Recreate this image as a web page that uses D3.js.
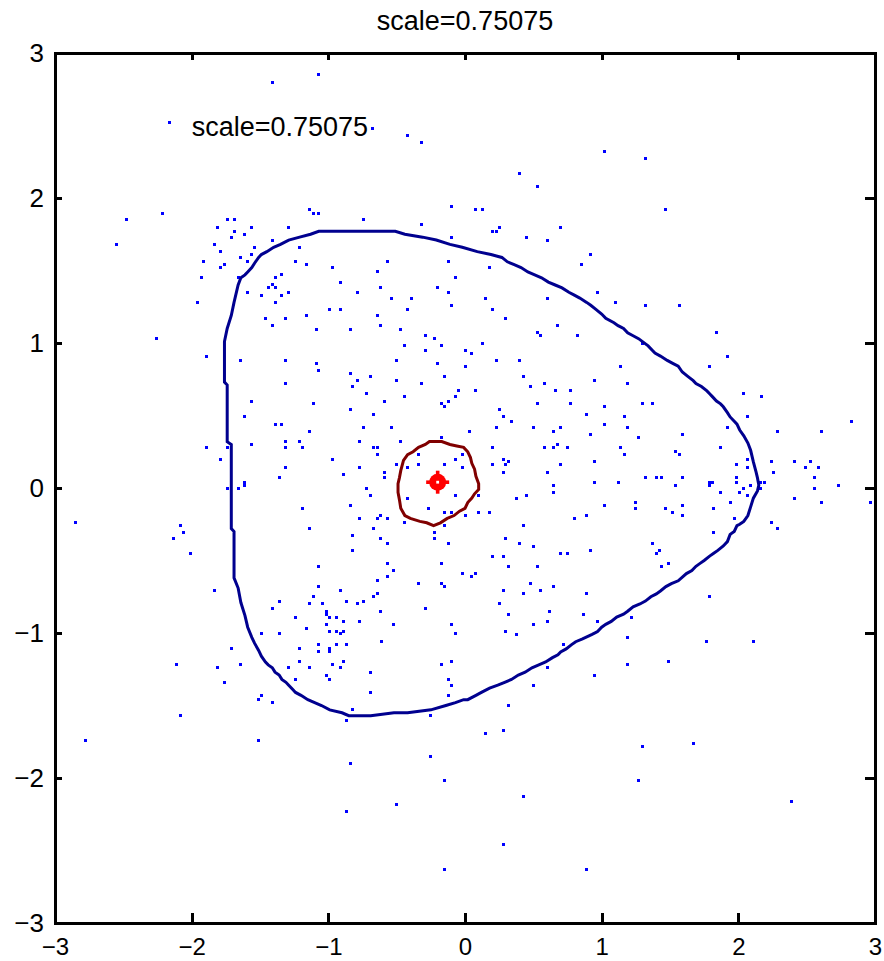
<!DOCTYPE html>
<html>
<head>
<meta charset="utf-8">
<script src="https://cdn.jsdelivr.net/npm/d3@7"></script>
<style>
  html, body { margin: 0; padding: 0; background: #fff; }
  svg { display: block; }
  text { font-family: "Liberation Sans", Arial, Helvetica, sans-serif; fill: #000; }
</style>
</head>
<body>
<svg id="chart" width="884" height="961"></svg>
<script>
// ---- data ----
const titleText = "scale=0.75075";
const noteText = "scale=0.75075";
const notePos = [-2, 2.5];
const xDomain = [-3, 3];
const yDomain = [-3, 3];
const xTickValues = [-3, -2, -1, 0, 1, 2, 3];
const yTickValues = [-3, -2, -1, 0, 1, 2, 3];

// sample cloud
const samplePoints = [
  [-1.07,2.85],[-1.41,2.80],[-2.16,2.52],[-0.68,2.48],[-0.42,2.43],[-0.32,2.38],[-2.21,1.89],[-2.48,1.85],
  [-2.55,1.68],[-1.14,1.92],[-1.11,1.89],[-1.07,1.89],[-0.74,1.85],[-0.10,1.94],[-0.32,1.82],[-0.10,1.73],
  [-1.74,1.85],[-1.69,1.85],[-1.81,1.80],[-1.69,1.77],[-1.56,1.80],[-1.29,1.80],[-1.71,1.73],[-1.61,1.75],
  [-1.83,1.68],[-1.41,1.71],[-1.79,1.63],[-1.54,1.66],[-1.21,1.66],[-1.56,1.61],[-1.64,1.59],[-1.91,1.56],
  [-1.59,1.56],[-1.76,1.54],[-1.79,1.52],[-1.24,1.56],[-1.16,1.54],[-0.97,1.52],[-0.57,1.56],[-0.12,1.56],
  [-0.64,1.49],[-1.93,1.45],[-1.66,1.45],[-1.39,1.45],[-1.34,1.47],[-0.91,1.42],[-0.07,1.45],[-1.41,1.40],
  [-1.44,1.38],[-1.39,1.38],[-1.59,1.35],[-1.49,1.33],[-1.34,1.33],[-1.29,1.35],[-0.79,1.35],[-0.62,1.38],
  [-0.20,1.38],[-0.12,1.35],[-0.54,1.31],[-0.39,1.31],[-1.96,1.28],[-1.39,1.28],[-0.10,1.26],[-0.99,1.23],
  [-0.91,1.23],[-0.42,1.23],[-1.16,1.19],[-0.64,1.19],[-1.46,1.17],[-1.31,1.17],[-1.41,1.12],[-0.62,1.12],
  [-1.09,1.09],[-0.84,1.09],[-0.47,1.09],[-0.29,1.05],[-0.22,1.03],[-2.26,1.03],[1.02,2.32],[1.32,2.27],
  [0.40,2.17],[0.53,2.08],[0.08,1.92],[0.13,1.92],[1.47,1.92],[0.25,1.80],[0.20,1.77],[0.23,1.77],
  [0.70,1.80],[0.45,1.73],[0.60,1.71],[0.92,1.61],[0.18,1.52],[0.85,1.54],[0.97,1.35],[1.10,1.28],
  [1.32,1.26],[1.57,1.26],[0.15,1.31],[0.60,1.31],[0.20,1.23],[0.30,1.17],[0.68,1.12],[0.53,1.07],
  [0.55,1.05],[0.82,1.05],[1.84,1.07],[0.13,1.00],[1.30,1.00],[-0.44,0.98],[-0.29,0.95],[-0.17,0.98],
  [0.00,0.95],[-1.89,0.91],[-1.64,0.88],[-1.31,0.88],[-0.50,0.88],[-1.09,0.86],[-0.20,0.86],[0.00,0.84],
  [-1.07,0.81],[-0.84,0.79],[-0.69,0.77],[-0.15,0.77],[-0.79,0.74],[-0.50,0.74],[-1.31,0.72],[-0.32,0.72],
  [-0.82,0.70],[-0.05,0.67],[-0.72,0.65],[-0.44,0.63],[-0.07,0.63],[-1.56,0.60],[-0.59,0.60],[-0.12,0.60],
  [-1.11,0.58],[-0.17,0.58],[-0.15,0.56],[-0.84,0.54],[-0.67,0.51],[-1.61,0.49],[-1.39,0.44],[-1.34,0.44],
  [-0.74,0.42],[-0.54,0.42],[-1.14,0.39],[-0.17,0.35],[-1.31,0.32],[-1.21,0.32],[-0.77,0.32],[-0.47,0.32],
  [-1.56,0.30],[-1.89,0.28],[-1.74,0.28],[-1.31,0.28],[-1.19,0.28],[-0.67,0.28],[-0.64,0.28],[-0.64,0.23],
  [-0.34,0.23],[-0.02,0.23],[-1.79,0.20],[-0.97,0.20],[-0.07,0.20],[-0.50,0.16],[-0.42,0.14],[-0.34,0.16],
  [-0.15,0.16],[-0.02,0.14],[-1.31,0.14],[-0.77,0.14],[-0.89,0.09],[-0.59,0.11],[-0.59,0.07],[-1.36,0.07],
  [-1.61,0.04],[-1.61,0.02],[-1.74,0.00],[-1.66,0.00],[-0.72,0.00],[-0.69,-0.05],[-0.07,-0.05],[-0.42,-0.07],
  [-0.84,-0.12],[-1.19,-0.14],[-0.27,-0.14],[-2.85,-0.24],[-0.62,-0.19],[-0.77,-0.21],[-0.64,-0.21],[-0.57,-0.21],
  [-0.44,-0.24],[-0.15,-0.17],[-0.10,-0.17],[0.00,-0.19],[-2.08,-0.26],[-2.06,-0.31],[-2.13,-0.35],[-2.01,-0.45],
  [-1.14,-0.28],[-0.67,-0.28],[-0.22,-0.31],[-0.15,-0.26],[-0.82,-0.33],[-0.62,-0.35],[-0.57,-0.38],[-0.22,-0.35],
  [-0.12,-0.38],[-0.82,-0.43],[-0.57,-0.52],[-0.17,-0.52],[-0.52,-0.57],[-1.07,-0.54],[-0.02,-0.59],[-0.57,-0.61],
  [-0.64,-0.64],[-0.34,-0.66],[-0.17,-0.66],[-0.15,-0.68],[-1.07,-0.68],[-0.91,-0.71],[-1.83,-0.71],[-0.64,-0.73],
  [-1.11,-0.75],[-0.67,-0.75],[-1.36,-0.78],[-0.87,-0.78],[-0.74,-0.78],[-1.14,-0.80],[-1.04,-0.80],[-0.79,-0.80],
  [-1.41,-0.83],[-0.29,-0.83],[-1.01,-0.85],[-1.01,-0.87],[-0.62,-0.85],[-1.24,-0.89],[-0.99,-0.89],[-0.94,-0.89],
  [-0.89,-0.92],[-0.77,-0.92],[-1.01,-0.94],[-0.52,-0.94],[-0.10,-0.94],[-1.16,-0.97],[-0.99,-0.99],[-0.94,-0.99],
  [-0.89,-0.99],[-0.91,-1.00],[-1.49,-1.00],[-1.36,-1.00],[-0.07,-1.00],[0.05,0.93],[0.23,0.88],[0.40,0.88],
  [1.14,0.84],[1.79,0.84],[1.92,0.91],[0.43,0.77],[0.58,0.72],[0.95,0.74],[1.19,0.72],[0.48,0.70],
  [0.08,0.67],[0.66,0.67],[0.77,0.67],[2.04,0.65],[2.17,0.63],[0.53,0.58],[0.77,0.58],[1.30,0.58],
  [1.37,0.58],[1.02,0.56],[0.25,0.54],[0.89,0.51],[0.28,0.49],[1.17,0.49],[2.07,0.49],[0.34,0.46],
  [2.83,0.46],[0.23,0.42],[0.50,0.42],[0.70,0.42],[1.02,0.44],[1.19,0.42],[1.92,0.42],[0.03,0.39],
  [0.65,0.39],[2.29,0.39],[2.61,0.39],[0.92,0.37],[1.59,0.37],[1.27,0.35],[0.68,0.30],[0.20,0.28],
  [0.58,0.28],[0.65,0.28],[0.75,0.28],[1.14,0.28],[1.87,0.28],[1.54,0.25],[1.17,0.23],[1.57,0.23],
  [0.28,0.20],[2.07,0.20],[0.32,0.18],[0.95,0.18],[2.24,0.18],[2.41,0.18],[2.53,0.18],[0.20,0.16],
  [0.30,0.16],[0.70,0.16],[1.99,0.16],[2.07,0.14],[2.49,0.14],[2.59,0.14],[0.28,0.11],[0.60,0.11],
  [2.26,0.11],[1.32,0.07],[1.40,0.07],[1.44,0.07],[1.59,0.07],[1.99,0.07],[1.99,0.04],[2.56,0.07],
  [0.95,0.04],[1.12,0.04],[1.79,0.04],[1.81,0.04],[1.79,0.02],[2.16,0.04],[2.19,0.04],[0.65,0.02],
  [1.54,0.02],[2.09,0.02],[2.73,0.02],[2.04,0.00],[2.16,0.00],[2.56,0.00],[0.10,-0.05],[0.65,-0.03],
  [1.87,-0.03],[2.01,-0.03],[2.07,-0.05],[0.45,-0.05],[0.38,-0.07],[2.41,-0.07],[1.25,-0.10],[1.94,-0.10],
  [2.61,-0.10],[2.97,-0.10],[1.02,-0.12],[1.59,-0.12],[1.25,-0.14],[1.47,-0.14],[1.82,-0.14],[0.10,-0.17],
  [0.18,-0.17],[1.52,-0.17],[0.89,-0.19],[1.59,-0.19],[0.80,-0.21],[1.97,-0.21],[2.24,-0.24],[0.43,-0.26],
  [2.29,-0.28],[1.82,-0.31],[0.30,-0.35],[0.40,-0.38],[1.37,-0.38],[0.50,-0.40],[0.92,-0.43],[1.42,-0.43],
  [0.70,-0.45],[0.75,-0.45],[1.40,-0.45],[0.20,-0.47],[0.28,-0.47],[1.49,-0.52],[0.32,-0.54],[0.53,-0.54],
  [1.44,-0.54],[0.08,-0.59],[0.05,-0.61],[0.48,-0.66],[0.28,-0.71],[0.55,-0.71],[0.65,-0.68],[0.43,-0.73],
  [0.89,-0.73],[1.79,-0.75],[0.25,-0.80],[0.62,-0.85],[0.32,-0.87],[0.87,-0.87],[1.22,-0.89],[0.60,-0.92],
  [0.97,-0.92],[0.50,-0.94],[0.30,-0.99],[0.38,-1.01],[-0.61,-1.06],[-1.07,-1.08],[-0.94,-1.08],[-0.87,-1.08],
  [-1.71,-1.11],[-1.21,-1.11],[-1.07,-1.13],[-0.99,-1.11],[-0.99,-1.13],[-2.11,-1.22],[-1.81,-1.24],[-1.64,-1.22],
  [-1.21,-1.20],[-0.89,-1.20],[-0.10,-1.20],[-1.29,-1.24],[-1.14,-1.24],[-0.97,-1.22],[-0.91,-1.24],[-0.17,-1.22],
  [-0.69,-1.27],[-1.01,-1.29],[-1.24,-1.32],[-0.99,-1.32],[-0.12,-1.32],[-1.76,-1.34],[-0.10,-1.36],[-0.69,-1.41],
  [-1.49,-1.43],[-1.51,-1.46],[-0.12,-1.43],[-1.41,-1.48],[-0.82,-1.53],[-0.87,-1.60],[-0.25,-1.57],[-2.08,-1.57],
  [-2.78,-1.74],[-1.51,-1.74],[-0.25,-1.85],[-0.84,-1.90],[-0.15,-2.02],[-0.50,-2.18],[-0.87,-2.23],[-0.15,-2.63],
  [1.19,-1.03],[1.77,-1.06],[2.11,-1.06],[0.72,-1.08],[1.49,-1.20],[1.19,-1.22],[0.60,-1.24],[0.95,-1.29],
  [0.50,-1.36],[0.32,-1.50],[0.28,-1.67],[0.15,-1.69],[1.30,-1.78],[1.67,-1.76],[1.27,-2.02],[0.43,-2.13],
  [2.39,-2.16],[0.28,-2.46],[0.89,-2.63]
];

// outer level curve
const outerContour = [
  [-1.76,1.01],[-1.74,1.10],[-1.71,1.19],[-1.69,1.28],[-1.66,1.40],[-1.64,1.45],[-1.61,1.47],[-1.59,1.49],
  [-1.56,1.52],[-1.54,1.55],[-1.51,1.59],[-1.49,1.61],[-1.45,1.63],[-1.40,1.66],[-1.35,1.68],[-1.29,1.71],
  [-1.21,1.73],[-1.13,1.75],[-1.07,1.77],[-0.51,1.77],[-0.44,1.75],[-0.31,1.73],[-0.21,1.71],[-0.11,1.68],
  [-0.02,1.66],[0.09,1.63],[0.19,1.61],[0.27,1.59],[0.31,1.56],[0.36,1.54],[0.41,1.52],[0.46,1.49],
  [0.51,1.47],[0.56,1.45],[0.61,1.42],[0.66,1.40],[0.71,1.38],[0.76,1.35],[0.80,1.33],[0.84,1.31],
  [0.89,1.28],[0.92,1.26],[0.96,1.23],[1.00,1.20],[1.03,1.17],[1.09,1.14],[1.12,1.12],[1.16,1.10],
  [1.19,1.07],[1.23,1.05],[1.27,1.03],[1.34,0.98],[1.37,0.95],[1.39,0.93],[1.43,0.91],[1.48,0.88],
  [1.52,0.86],[1.56,0.84],[1.59,0.80],[1.63,0.77],[1.67,0.74],[1.69,0.72],[1.73,0.70],[1.77,0.67],
  [1.79,0.65],[1.81,0.63],[1.84,0.60],[1.87,0.58],[1.89,0.56],[1.92,0.52],[1.94,0.49],[1.97,0.46],
  [1.99,0.44],[2.01,0.40],[2.04,0.36],[2.07,0.31],[2.09,0.26],[2.11,0.18],[2.13,0.11],[2.14,0.07],
  [2.15,0.02],[2.14,-0.02],[2.11,-0.07],[2.09,-0.13],[2.07,-0.19],[2.04,-0.23],[2.01,-0.25],[1.99,-0.26],
  [1.97,-0.30],[1.94,-0.32],[1.92,-0.37],[1.89,-0.40],[1.85,-0.43],[1.82,-0.45],[1.79,-0.47],[1.75,-0.50],
  [1.72,-0.52],[1.69,-0.54],[1.66,-0.57],[1.62,-0.59],[1.56,-0.64],[1.51,-0.66],[1.47,-0.68],[1.43,-0.71],
  [1.40,-0.73],[1.36,-0.75],[1.32,-0.78],[1.28,-0.80],[1.23,-0.82],[1.19,-0.85],[1.16,-0.87],[1.11,-0.89],
  [1.07,-0.92],[1.03,-0.94],[1.00,-0.96],[0.97,-0.99],[0.93,-1.01],[0.86,-1.04],[0.81,-1.06],[0.78,-1.08],
  [0.74,-1.11],[0.70,-1.13],[0.68,-1.15],[0.64,-1.17],[0.59,-1.20],[0.54,-1.22],[0.49,-1.24],[0.44,-1.27],
  [0.39,-1.29],[0.34,-1.32],[0.29,-1.34],[0.24,-1.36],[0.18,-1.38],[0.12,-1.41],[0.08,-1.43],[0.02,-1.46],
  [-0.01,-1.46],[-0.07,-1.48],[-0.14,-1.50],[-0.25,-1.53],[-0.42,-1.55],[-0.52,-1.55],[-0.69,-1.57],[-0.85,-1.57],
  [-0.90,-1.55],[-0.99,-1.53],[-1.05,-1.50],[-1.10,-1.48],[-1.15,-1.46],[-1.20,-1.43],[-1.24,-1.41],[-1.26,-1.39],
  [-1.29,-1.36],[-1.31,-1.34],[-1.34,-1.32],[-1.36,-1.29],[-1.39,-1.27],[-1.41,-1.24],[-1.44,-1.22],[-1.46,-1.20],
  [-1.49,-1.16],[-1.51,-1.12],[-1.54,-1.07],[-1.56,-1.03],[-1.59,-0.96],[-1.61,-0.88],[-1.64,-0.79],[-1.66,-0.69],
  [-1.69,-0.62],[-1.69,-0.30],[-1.71,-0.28],[-1.71,0.30],[-1.74,0.32],[-1.74,0.71],[-1.76,0.73]
];

// inner level curve
const innerContour = [
  [-0.26,0.32],[-0.17,0.32],[-0.11,0.30],[-0.06,0.29],[-0.01,0.28],[0.02,0.25],[0.04,0.21],[0.05,0.17],
  [0.07,0.13],[0.08,0.08],[0.10,0.03],[0.10,-0.01],[0.07,-0.04],[0.05,-0.07],[0.02,-0.10],[0.00,-0.14],
  [-0.04,-0.16],[-0.08,-0.19],[-0.13,-0.21],[-0.18,-0.24],[-0.23,-0.26],[-0.28,-0.24],[-0.33,-0.23],[-0.40,-0.21],
  [-0.44,-0.19],[-0.47,-0.14],[-0.48,-0.08],[-0.49,-0.03],[-0.49,0.03],[-0.48,0.07],[-0.47,0.12],[-0.45,0.19],
  [-0.42,0.23],[-0.38,0.25],[-0.34,0.28],[-0.29,0.30]
];

// centre estimate
const centrePoint = [-0.20, 0.04];

// ---- drawing ----
const svg = d3.select("#chart");

const x = d3.scaleLinear().domain(xDomain).range([55, 875]);
const y = d3.scaleLinear().domain(yDomain).range([923, 53]);

const plot = svg.append("g");

// scatter samples
plot.append("g")
  .attr("shape-rendering", "crispEdges")
  .selectAll("rect")
  .data(samplePoints)
  .join("rect")
  .attr("x", d => Math.round(x(d[0]) - 1.5))
  .attr("y", d => Math.round(y(d[1]) - 1.5))
  .attr("width", 3)
  .attr("height", 3)
  .attr("fill", "#0000ff");

const line = d3.line()
  .x(d => x(d[0]))
  .y(d => y(d[1]))
  .curve(d3.curveLinearClosed);

plot.append("path")
  .datum(outerContour)
  .attr("d", line)
  .attr("fill", "none")
  .attr("stroke", "#00008f")
  .attr("stroke-width", 3)
  .attr("stroke-linejoin", "miter");

plot.append("path")
  .datum(innerContour)
  .attr("d", line)
  .attr("fill", "none")
  .attr("stroke", "#800000")
  .attr("stroke-width", 3);

// centre marker: thick star with a small open core
const mk = plot.append("g")
  .attr("transform", `translate(${x(centrePoint[0])},${y(centrePoint[1])})`)
  .attr("fill", "#ff0000");
mk.append("circle").attr("r", 8.5);
mk.append("rect").attr("x", -1.8).attr("y", -11.5).attr("width", 3.6).attr("height", 23);
mk.append("rect").attr("x", -11.5).attr("y", -1.8).attr("width", 23).attr("height", 3.6);
mk.append("rect").attr("x", -1.4).attr("y", -1.4).attr("width", 2.8).attr("height", 2.8).attr("fill", "#fff");

// annotation inside the axes
svg.append("text")
  .attr("x", x(notePos[0]))
  .attr("y", y(notePos[1]) + 10)
  .attr("font-size", 27)
  .attr("text-anchor", "start")
  .text(noteText);

// title
svg.append("text")
  .attr("x", (x(xDomain[0]) + x(xDomain[1])) / 2)
  .attr("y", 30)
  .attr("font-size", 27)
  .attr("text-anchor", "middle")
  .text(titleText);

// axes: ticks point inward on all four sides
function styleAxis(size) {
  return g => {
    g.attr("shape-rendering", "crispEdges");
    g.select(".domain").remove();
    g.selectAll(".tick line").attr("stroke", "#000").attr("stroke-width", 3);
    g.selectAll(".tick text").attr("font-size", size).attr("fill", "#000")
      .attr("font-family", "'Liberation Sans', Arial, Helvetica, sans-serif");
  };
}

svg.append("g")
  .attr("transform", `translate(0,${y(yDomain[0])})`)
  .call(d3.axisBottom(x).tickValues(xTickValues).tickFormat(d3.format("d"))
        .tickSizeInner(-10).tickSizeOuter(0).tickPadding(15))
  .call(styleAxis(24));

svg.append("g")
  .attr("transform", `translate(0,${y(yDomain[1])})`)
  .call(d3.axisTop(x).tickValues(xTickValues).tickFormat("")
        .tickSizeInner(-7).tickSizeOuter(0))
  .call(styleAxis(24));

svg.append("g")
  .attr("transform", `translate(${x(xDomain[0])},0)`)
  .call(d3.axisLeft(y).tickValues(yTickValues).tickFormat(d3.format("d"))
        .tickSizeInner(-7).tickSizeOuter(0).tickPadding(11))
  .call(styleAxis(26));

svg.append("g")
  .attr("transform", `translate(${x(xDomain[1])},0)`)
  .call(d3.axisRight(y).tickValues(yTickValues).tickFormat("")
        .tickSizeInner(-10).tickSizeOuter(0))
  .call(styleAxis(26));

// axes box
svg.append("rect")
  .attr("x", x(xDomain[0]))
  .attr("y", y(yDomain[1]))
  .attr("width", x(xDomain[1]) - x(xDomain[0]))
  .attr("height", y(yDomain[0]) - y(yDomain[1]))
  .attr("fill", "none")
  .attr("stroke", "#000")
  .attr("stroke-width", 3)
  .attr("shape-rendering", "crispEdges");
</script>
</body>
</html>
